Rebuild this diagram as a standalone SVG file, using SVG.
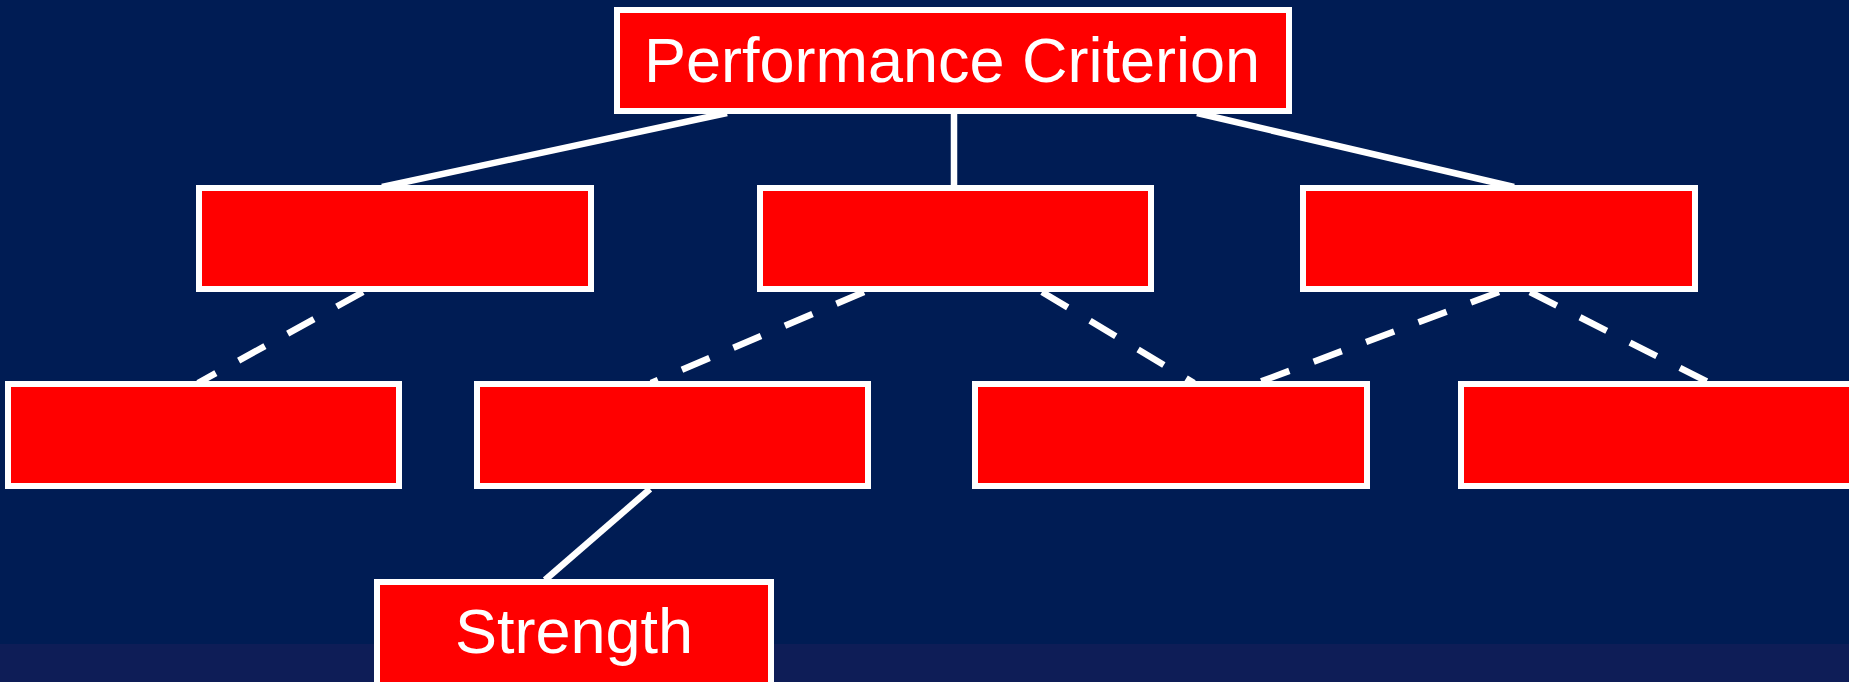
<svg xmlns="http://www.w3.org/2000/svg" width="1849" height="682" viewBox="0 0 1849 682">
<style>
.box{fill:#FF0000;stroke:#FFFFFF;stroke-width:6}
.lbl{font-family:"Liberation Sans",Arial,sans-serif;font-size:63px;fill:#FFFFFF;text-anchor:middle}
.c{stroke:#FFFFFF;stroke-width:6.5;fill:none}
.d{stroke-dasharray:30 26}
</style>
<rect x="0" y="0" width="1849" height="644" fill="#001C54"/>
<rect x="0" y="644" width="1849" height="38" fill="#0E1D57"/>
<g id="connectors">
<line class="c" x1="727" y1="113" x2="382" y2="187"/>
<line class="c" x1="954" y1="113" x2="954" y2="187"/>
<line class="c" x1="1197" y1="113" x2="1514" y2="187"/>
<line class="c" x1="650" y1="489" x2="545" y2="580"/>
<line class="c d" x1="363" y1="292" x2="198" y2="383"/>
<line class="c d" x1="864" y1="292" x2="651" y2="383"/>
<line class="c d" x1="1042" y1="292" x2="1194" y2="383"/>
<line class="c d" x1="1499" y1="292" x2="1257" y2="383"/>
<line class="c d" x1="1530" y1="292" x2="1710" y2="383"/>
</g>
<g id="n-top"><rect class="box" x="617" y="10" width="672" height="101"/><text class="lbl" x="952" y="82">Performance Criterion</text></g>
<g id="n-a"><rect class="box" x="199" y="188" width="392" height="101"/></g>
<g id="n-b"><rect class="box" x="760" y="188" width="391" height="101"/></g>
<g id="n-c"><rect class="box" x="1303" y="188" width="392" height="101"/></g>
<g id="n-d"><rect class="box" x="8" y="384" width="391" height="102"/></g>
<g id="n-e"><rect class="box" x="477" y="384" width="391" height="102"/></g>
<g id="n-f"><rect class="box" x="975" y="384" width="392" height="102"/></g>
<g id="n-g"><rect class="box" x="1461" y="384" width="395" height="102"/></g>
<g id="n-strength"><rect class="box" x="377" y="582" width="394" height="104"/><text class="lbl" x="574" y="653">Strength</text></g>
</svg>
